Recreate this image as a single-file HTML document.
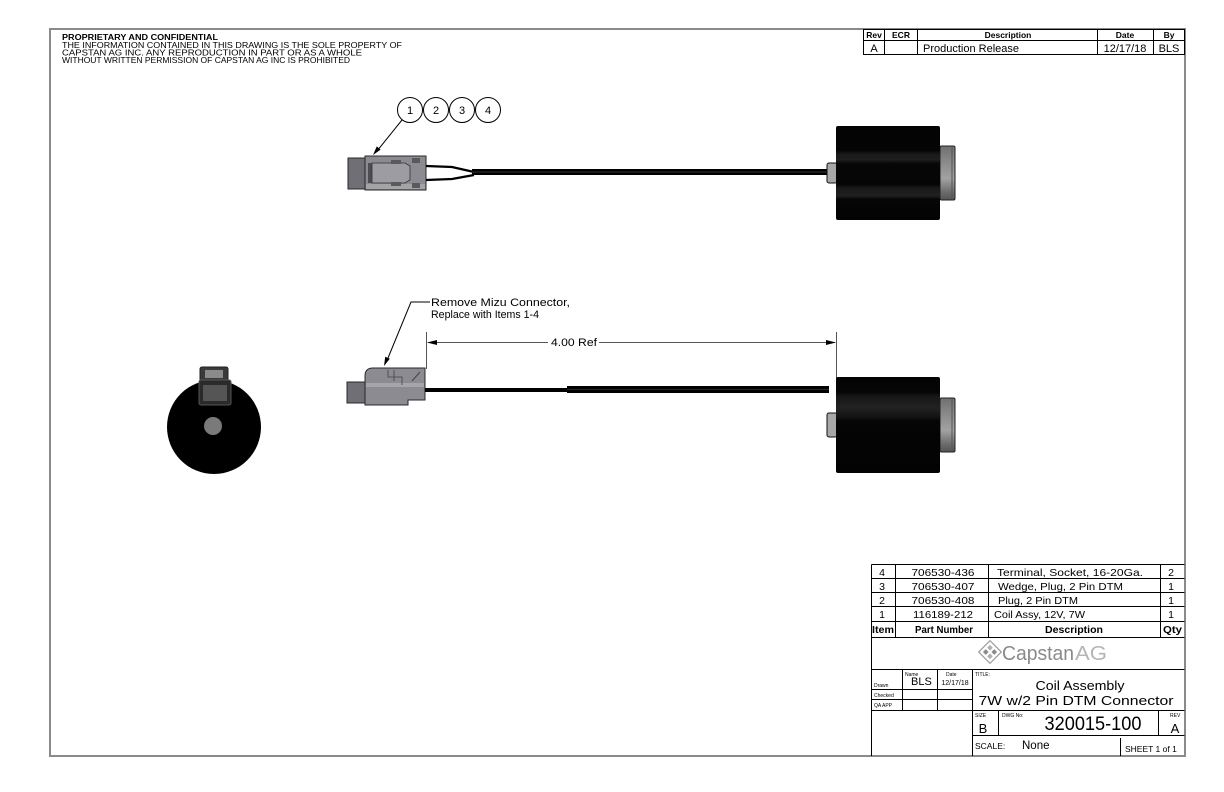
<!DOCTYPE html>
<html><head><meta charset="utf-8"><style>
html,body{margin:0;padding:0;background:#fff;}
svg{display:block;}
text{font-family:"Liberation Sans",Arial,sans-serif;fill:#000;}
</style></head><body>
<svg width="1224" height="792" viewBox="0 0 1224 792" xmlns="http://www.w3.org/2000/svg">
<defs>
<linearGradient id="coilA" x1="0" y1="0" x2="0" y2="1">
<stop offset="0" stop-color="#030303"/><stop offset="0.26" stop-color="#050505"/>
<stop offset="0.30" stop-color="#1a1a1a"/><stop offset="0.36" stop-color="#1e1e1e"/>
<stop offset="0.40" stop-color="#070707"/><stop offset="0.62" stop-color="#050505"/>
<stop offset="0.66" stop-color="#181818"/><stop offset="0.74" stop-color="#202020"/>
<stop offset="0.78" stop-color="#060606"/><stop offset="1" stop-color="#030303"/>
</linearGradient>
<linearGradient id="coilB" x1="0" y1="0" x2="0" y2="1">
<stop offset="0" stop-color="#030303"/><stop offset="0.16" stop-color="#060606"/>
<stop offset="0.20" stop-color="#161616"/><stop offset="0.32" stop-color="#222"/>
<stop offset="0.42" stop-color="#121212"/><stop offset="0.46" stop-color="#050505"/>
<stop offset="1" stop-color="#030303"/>
</linearGradient>
<linearGradient id="cap" x1="0" y1="0" x2="0" y2="1">
<stop offset="0" stop-color="#707070"/><stop offset="0.3" stop-color="#8a8a8a"/>
<stop offset="0.6" stop-color="#a2a2a2"/><stop offset="0.85" stop-color="#6c6c6c"/>
<stop offset="1" stop-color="#555"/>
</linearGradient>
</defs>

<!-- frame -->
<rect x="50" y="29" width="1135" height="727" fill="none" stroke="#8a8a8a" stroke-width="2"/>

<!-- proprietary -->
<text x="62" y="40" font-size="8" font-weight="bold" textLength="156" lengthAdjust="spacingAndGlyphs">PROPRIETARY AND CONFIDENTIAL</text>
<text x="62" y="48" font-size="8.5" textLength="340" lengthAdjust="spacingAndGlyphs">THE INFORMATION CONTAINED IN THIS DRAWING IS THE SOLE PROPERTY OF</text>
<text x="62" y="55.5" font-size="8.5" textLength="300" lengthAdjust="spacingAndGlyphs">CAPSTAN AG INC. ANY REPRODUCTION IN PART OR AS A WHOLE</text>
<text x="62" y="63" font-size="8.5" textLength="288" lengthAdjust="spacingAndGlyphs">WITHOUT WRITTEN PERMISSION OF CAPSTAN AG INC IS PROHIBITED</text>

<!-- rev table -->
<g stroke="#000" stroke-width="1" fill="none">
<rect x="863.5" y="29.5" width="321" height="25"/>
<line x1="863.5" y1="40.5" x2="1184.5" y2="40.5"/>
<line x1="884.5" y1="29.5" x2="884.5" y2="54.5"/>
<line x1="917.5" y1="29.5" x2="917.5" y2="54.5"/>
<line x1="1097.5" y1="29.5" x2="1097.5" y2="54.5"/>
<line x1="1153.5" y1="29.5" x2="1153.5" y2="54.5"/>
</g>
<g font-size="8.5" font-weight="bold" text-anchor="middle">
<text x="874" y="38">Rev</text><text x="901" y="38">ECR</text>
<text x="1008" y="38">Description</text><text x="1125" y="38">Date</text><text x="1169" y="38">By</text>
</g>
<g font-size="11">
<text x="874" y="52" text-anchor="middle">A</text>
<text x="923" y="52">Production Release</text>
<text x="1125" y="52" text-anchor="middle">12/17/18</text>
<text x="1169" y="52" text-anchor="middle">BLS</text>
</g>

<!-- top view: balloons -->
<g stroke="#000" stroke-width="1" fill="#fff">
<circle cx="410" cy="110" r="12.5"/><circle cx="436" cy="110" r="12.5"/>
<circle cx="462" cy="110" r="12.5"/><circle cx="488" cy="110" r="12.5"/>
</g>
<g font-size="11" text-anchor="middle">
<text x="410" y="114">1</text><text x="436" y="114">2</text><text x="462" y="114">3</text><text x="488" y="114">4</text>
</g>
<line x1="402" y1="120" x2="377" y2="151" stroke="#000" stroke-width="1"/>
<polygon points="373,155 380.6,149.6 376.8,146.4" fill="#000"/>

<!-- top connector -->
<rect x="348" y="158" width="17" height="31" fill="#6f6f75" stroke="#2a2a2a"/>
<rect x="365" y="156" width="61" height="34" fill="#8b8b91" stroke="#2a2a2a"/>
<rect x="366" y="184" width="59" height="5" fill="#a3a3a8"/>
<rect x="368" y="163" width="4" height="20" fill="#4e4e52"/>
<path d="M372 163 H405 L410 166 V180 L405 183 H372 Z" fill="#9c9ca2" stroke="#333" stroke-width="0.8"/>
<rect x="391" y="160" width="10" height="4" fill="#5a5a5e"/>
<rect x="391" y="182" width="10" height="4" fill="#5a5a5e"/>
<rect x="412" y="158" width="8" height="5" fill="#5a5a5e"/>
<rect x="412" y="183" width="8" height="5" fill="#5a5a5e"/>
<!-- wires -->
<path d="M426 166 L452 167 L474 172" stroke="#000" stroke-width="2.2" fill="none"/>
<path d="M426 180 L452 179 L474 175" stroke="#000" stroke-width="2.2" fill="none"/>
<rect x="472" y="169" width="356" height="6" fill="#000"/>
<line x1="472" y1="172" x2="828" y2="172" stroke="#444" stroke-width="0.8"/>

<!-- top coil -->
<rect x="827" y="163" width="10" height="20" rx="2" fill="#a8a8a8" stroke="#111"/>
<rect x="940" y="146" width="15" height="54" rx="1.5" fill="url(#cap)" stroke="#222"/>
<line x1="952" y1="147" x2="952" y2="199" stroke="#555"/>
<rect x="836" y="126" width="104" height="94" rx="2" fill="url(#coilA)"/>

<!-- bottom view: leader note -->
<polyline points="430,302 411,302 388,358" fill="none" stroke="#000" stroke-width="1"/>
<polygon points="384,366 389.8,358.7 385.2,356.7" fill="#000"/>
<text x="431" y="306" font-size="11" textLength="139" lengthAdjust="spacingAndGlyphs">Remove Mizu Connector,</text>
<text x="431" y="318" font-size="11" textLength="108" lengthAdjust="spacingAndGlyphs">Replace with Items 1-4</text>

<!-- dimension -->
<g stroke="#555" stroke-width="1">
<line x1="426.5" y1="332" x2="426.5" y2="369"/>
<line x1="836.5" y1="332" x2="836.5" y2="378"/>
<line x1="428" y1="342.5" x2="548" y2="342.5"/>
<line x1="599" y1="342.5" x2="835" y2="342.5"/>
</g>
<polygon points="427,342.5 437,340 437,345" fill="#000"/>
<polygon points="836,342.5 826,340 826,345" fill="#000"/>
<text x="551" y="346" font-size="11" textLength="46" lengthAdjust="spacingAndGlyphs">4.00 Ref</text>

<!-- bottom connector -->
<rect x="347" y="382" width="18" height="21" fill="#6f6f75" stroke="#2a2a2a"/>
<path d="M365 376 Q365 368 373 368 H425 V400 H408 V405 H365 Z" fill="#8b8b91" stroke="#2a2a2a"/>
<rect x="366" y="383" width="58" height="4" fill="#a5a5aa"/>
<path d="M388 370 V377 H402 V385 M394 370 V381" stroke="#444" stroke-width="0.8" fill="none"/>
<path d="M412 381 L420 372" stroke="#444" stroke-width="1" fill="none"/>
<!-- bottom cable -->
<rect x="425" y="388" width="145" height="4" fill="#000"/>
<rect x="567" y="386" width="262" height="7" fill="#000"/>
<line x1="567" y1="389.5" x2="829" y2="389.5" stroke="#333" stroke-width="0.8"/>

<!-- bottom coil -->
<rect x="827" y="413" width="10" height="24" rx="2" fill="#a8a8a8" stroke="#111"/>
<rect x="940" y="398" width="15" height="54" rx="1.5" fill="url(#cap)" stroke="#222"/>
<line x1="952" y1="399" x2="952" y2="451" stroke="#555"/>
<rect x="836" y="377" width="104" height="96" rx="2" fill="url(#coilB)"/>

<!-- end view -->
<circle cx="214" cy="427" r="47" fill="#000"/>
<rect x="200" y="367" width="28" height="14" rx="2" fill="#3a3a3a" stroke="#222"/>
<rect x="205" y="370" width="18" height="8" fill="#8a8a8a"/>
<rect x="199" y="380" width="32" height="25" rx="2" fill="#2a2a2a" stroke="#555"/>
<rect x="203" y="385" width="24" height="16" fill="#555"/>
<circle cx="213" cy="426" r="9" fill="#7a7a7a"/>

<!-- BOM table -->
<g stroke="#000" stroke-width="1" fill="none">
<line x1="871.5" y1="564.5" x2="1184.5" y2="564.5"/>
<line x1="871.5" y1="578.5" x2="1184.5" y2="578.5"/>
<line x1="871.5" y1="592.5" x2="1184.5" y2="592.5"/>
<line x1="871.5" y1="606.5" x2="1184.5" y2="606.5"/>
<line x1="871.5" y1="621.5" x2="1184.5" y2="621.5"/>
<line x1="871.5" y1="637.5" x2="1184.5" y2="637.5"/>
<line x1="871.5" y1="564.5" x2="871.5" y2="756"/>
<line x1="895.5" y1="564.5" x2="895.5" y2="637.5"/>
<line x1="988.5" y1="564.5" x2="988.5" y2="637.5"/>
<line x1="1160.5" y1="564.5" x2="1160.5" y2="637.5"/>
<!-- title block -->
<line x1="871.5" y1="669.5" x2="1184.5" y2="669.5"/>
<line x1="871.5" y1="710.5" x2="1184.5" y2="710.5"/>
<line x1="871.5" y1="689.5" x2="972.5" y2="689.5"/>
<line x1="871.5" y1="699.5" x2="972.5" y2="699.5"/>
<line x1="902.5" y1="669.5" x2="902.5" y2="710.5"/>
<line x1="937.5" y1="669.5" x2="937.5" y2="710.5"/>
<line x1="972.5" y1="669.5" x2="972.5" y2="756"/>
<line x1="998.5" y1="710.5" x2="998.5" y2="735.5"/>
<line x1="1158.5" y1="710.5" x2="1158.5" y2="735.5"/>
<line x1="972.5" y1="735.5" x2="1184.5" y2="735.5"/>
<line x1="1120.5" y1="738" x2="1120.5" y2="756"/>
</g>
<g font-size="10.5">
<text x="882" y="576" text-anchor="middle">4</text>
<text x="882" y="590" text-anchor="middle">3</text>
<text x="882" y="604" text-anchor="middle">2</text>
<text x="882" y="618" text-anchor="middle">1</text>
<text x="943" y="576" text-anchor="middle" textLength="63" lengthAdjust="spacingAndGlyphs">706530-436</text>
<text x="943" y="590" text-anchor="middle" textLength="63" lengthAdjust="spacingAndGlyphs">706530-407</text>
<text x="943" y="604" text-anchor="middle" textLength="63" lengthAdjust="spacingAndGlyphs">706530-408</text>
<text x="943" y="618" text-anchor="middle" textLength="60" lengthAdjust="spacingAndGlyphs">116189-212</text>
<text x="997" y="576" textLength="146" lengthAdjust="spacingAndGlyphs">Terminal, Socket, 16-20Ga.</text>
<text x="998" y="590" textLength="125" lengthAdjust="spacingAndGlyphs">Wedge, Plug, 2 Pin DTM</text>
<text x="998" y="604" textLength="80" lengthAdjust="spacingAndGlyphs">Plug, 2 Pin DTM</text>
<text x="994" y="618" textLength="91" lengthAdjust="spacingAndGlyphs">Coil Assy, 12V, 7W</text>
<text x="1171" y="576" text-anchor="middle">2</text>
<text x="1171" y="590" text-anchor="middle">1</text>
<text x="1171" y="604" text-anchor="middle">1</text>
<text x="1171" y="618" text-anchor="middle">1</text>
</g>
<g font-size="10" font-weight="bold">
<text x="872" y="633" textLength="22" lengthAdjust="spacingAndGlyphs">Item</text>
<text x="915" y="633" textLength="58" lengthAdjust="spacingAndGlyphs">Part Number</text>
<text x="1045" y="633" textLength="58" lengthAdjust="spacingAndGlyphs">Description</text>
<text x="1163" y="633" textLength="19" lengthAdjust="spacingAndGlyphs">Qty</text>
</g>

<!-- logo -->
<g transform="translate(990,652) rotate(45)">
<rect x="-8" y="-8" width="16" height="16" fill="none" stroke="#9a9a9a" stroke-width="1.2"/>
<rect x="-5" y="-5" width="4" height="4" fill="#b0b0b0"/><rect x="1" y="-5" width="4" height="4" fill="#8a8a8a"/>
<rect x="-5" y="1" width="4" height="4" fill="#8a8a8a"/><rect x="1" y="1" width="4" height="4" fill="#b0b0b0"/>
</g>
<text x="1002" y="660" font-size="20" style="fill:#8a8a8a" textLength="72" lengthAdjust="spacingAndGlyphs">Capstan</text>
<text x="1075" y="660" font-size="20" style="fill:#b5b5b5" textLength="32" lengthAdjust="spacingAndGlyphs">AG</text>

<!-- title block text -->
<g font-size="5" style="fill:#333">
<text x="905" y="676">Name</text><text x="946" y="676">Date</text>
<text x="874" y="687">Drawn</text><text x="874" y="697">Checked</text><text x="874" y="707">QA APP</text>
<text x="975" y="676">TITLE:</text>
<text x="975" y="717">SIZE</text><text x="1002" y="717">DWG No:</text><text x="1170" y="717">REV</text>
</g>
<text x="911" y="685" font-size="11">BLS</text>
<text x="955" y="685" font-size="7" text-anchor="middle">12/17/18</text>
<text x="1080" y="690" font-size="13" text-anchor="middle" textLength="89" lengthAdjust="spacingAndGlyphs">Coil Assembly</text>
<text x="1076" y="705" font-size="13" text-anchor="middle" textLength="195" lengthAdjust="spacingAndGlyphs">7W w/2 Pin DTM Connector</text>
<text x="983" y="733" font-size="13" text-anchor="middle">B</text>
<text x="1093" y="730" font-size="19" text-anchor="middle" textLength="97" lengthAdjust="spacingAndGlyphs">320015-100</text>
<text x="1175" y="733" font-size="13" text-anchor="middle">A</text>
<text x="975" y="749" font-size="8.5">SCALE:</text>
<text x="1022" y="749" font-size="11.5">None</text>
<text x="1125" y="752" font-size="8.5">SHEET 1 of 1</text>
</svg>
</body></html>
